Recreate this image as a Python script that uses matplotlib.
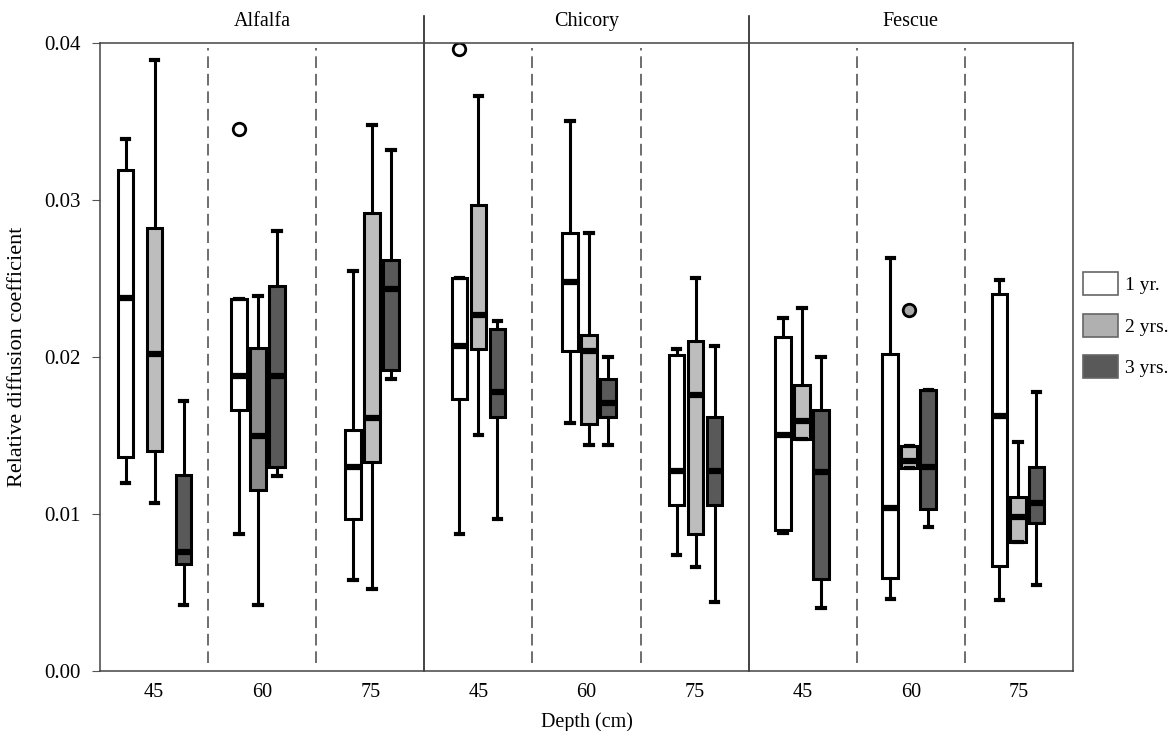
import numpy as np
import matplotlib.pyplot as plt
from matplotlib.patches import Patch

plt.rcParams['font.family'] = 'Liberation Serif'

crops = ['Alfalfa', 'Chicory', 'Fescue']
depths = ['45', '60', '75', '45', '60', '75', '45', '60', '75']
ages = ['1 yr.', '2 yrs.', '3 yrs.']

# box stats per group (9 groups: crop x depth), one list per age class
# order inside each tuple: whisker low, q1, median, q3, whisker high
yr1 = [(0.0120, 0.0136, 0.02375, 0.0319, 0.0339),
       (0.0087, 0.01665, 0.0188, 0.0237, 0.0237),
       (0.0058, 0.0097, 0.0130, 0.01537, 0.02545),
       (0.0087, 0.0173, 0.0207, 0.02505, 0.02505),
       (0.0158, 0.0204, 0.0248, 0.0279, 0.0350),
       (0.0074, 0.01055, 0.01276, 0.0201, 0.0205),
       (0.0088, 0.00895, 0.0150, 0.0213, 0.0225),
       (0.0046, 0.00595, 0.0104, 0.0202, 0.0263),
       (0.0045, 0.0067, 0.01625, 0.0240, 0.0249)]
yr2 = [(0.0107, 0.0140, 0.0202, 0.0282, 0.0389),
       (0.0042, 0.01155, 0.01495, 0.0206, 0.0239),
       (0.0052, 0.0133, 0.0161, 0.0292, 0.0348),
       (0.0150, 0.0205, 0.0227, 0.0297, 0.0366),
       (0.0144, 0.0157, 0.02035, 0.0214, 0.0279),
       (0.0066, 0.0087, 0.0176, 0.0210, 0.0250),
       (0.0148, 0.0148, 0.0159, 0.0182, 0.0231),
       (0.0129, 0.0129, 0.0134, 0.0143, 0.0143),
       (0.0082, 0.0082, 0.0098, 0.0111, 0.0146)]
yr3 = [(0.0042, 0.0068, 0.00755, 0.0125, 0.0172),
       (0.0124, 0.0130, 0.0188, 0.0245, 0.0280),
       (0.0186, 0.0192, 0.02435, 0.0262, 0.0332),
       (0.0097, 0.0162, 0.0178, 0.0218, 0.0223),
       (0.0144, 0.0162, 0.0171, 0.0186, 0.0200),
       (0.0044, 0.0106, 0.01276, 0.0162, 0.0207),
       (0.0040, 0.00585, 0.01265, 0.0166, 0.0200),
       (0.0092, 0.0103, 0.0130, 0.0179, 0.0179),
       (0.0055, 0.0094, 0.0107, 0.0130, 0.0178)]
# outliers: (group, age index, value)
outliers = [(1, 0, 0.0345), (3, 0, 0.0396), (7, 1, 0.0230)]

colors = ['white', '#bdbdbd', '#595959']
# small placement quirks of the original (px -> data units, 1 group = 108 px)
gap_px = [29, 19, 19, 19, 19, 19, 19, 19, 18.5]
shift_px = [0.5, -4, 2, 0, 2.5, 1, -0.5, -1.5, -1]
unit = 108.1

fig = plt.figure(figsize=(11.72, 7.31), dpi=100)
ax = fig.add_axes([0.0853, 0.0821, 0.8302, 0.8591])

for k, series in enumerate([yr1, yr2, yr3]):
    stats, pos = [], []
    for g, (lo, q1, med, q3, hi) in enumerate(series):
        fl = [v for (gg, kk, v) in outliers if gg == g and kk == k]
        stats.append(dict(whislo=lo, q1=q1, med=med, q3=q3, whishi=hi, fliers=fl))
        pos.append(g + (shift_px[g] + (k - 1) * gap_px[g]) / unit)
    fc = 'white' if k == 0 else colors[k]
    b = ax.bxp(stats, positions=pos, widths=0.145, patch_artist=True,
               showfliers=True, capwidths=0.07,
               boxprops=dict(facecolor=colors[k], edgecolor='black', linewidth=2.2),
               medianprops=dict(color='black', linewidth=4.5, solid_capstyle='butt'),
               whiskerprops=dict(color='black', linewidth=2.2),
               capprops=dict(color='black', linewidth=3),
               flierprops=dict(marker='o', markersize=9, markerfacecolor=fc,
                               markeredgecolor='black', markeredgewidth=2))
    if k == 1:
        b['boxes'][1].set_facecolor('#8a8a8a')
        for fl in b['fliers']:
            fl.set_markerfacecolor('#a8a8a8')

# separators
for x in [0.5, 1.5, 3.5, 4.5, 6.5, 7.5]:
    ax.plot([x, x], [0.0005, 0.0397], color='#555555', lw=1.2, ls=(0, (7, 3.5)))
for x in [2.5, 5.5]:
    ax.plot([x, x], [0, 1.043], color='#222222', lw=1.2, clip_on=False,
            transform=ax.get_xaxis_transform())
for i, c in enumerate(crops):
    ax.text(1 + 3 * i, 1.035, c, transform=ax.get_xaxis_transform(),
            ha='center', va='center', fontsize=14.5)

ax.set_xlim(-0.5, 8.5)
ax.set_ylim(0, 0.04)
ax.set_xticks(range(9))
ax.set_xticklabels(depths, fontsize=14.5)
ax.set_yticks([0, 0.01, 0.02, 0.03, 0.04])
ax.set_yticklabels(['0.00', '0.01', '0.02', '0.03', '0.04'], fontsize=15)
ax.tick_params(axis='x', length=0, pad=9)
ax.tick_params(axis='y', length=6, color='#555555', pad=8)
for s in ax.spines.values():
    s.set_color('#444444')
    s.set_linewidth(1.1)
ax.set_xlabel('Depth (cm)', fontsize=14.5, labelpad=7)
ax.set_ylabel('Relative diffusion coefficient', fontsize=16, labelpad=12)

handles = [Patch(facecolor=c, edgecolor='#666666', lw=1.2) for c in ['white', '#b0b0b0', '#595959']]
ax.legend(handles, ages, loc='upper left', bbox_to_anchor=(1.01, 0.635), frameon=False,
          fontsize=14, handlelength=1.8, handleheight=1.45, labelspacing=0.95,
          handletextpad=0.4, borderpad=0, borderaxespad=0)

fig.savefig('out.png', dpi=100)
